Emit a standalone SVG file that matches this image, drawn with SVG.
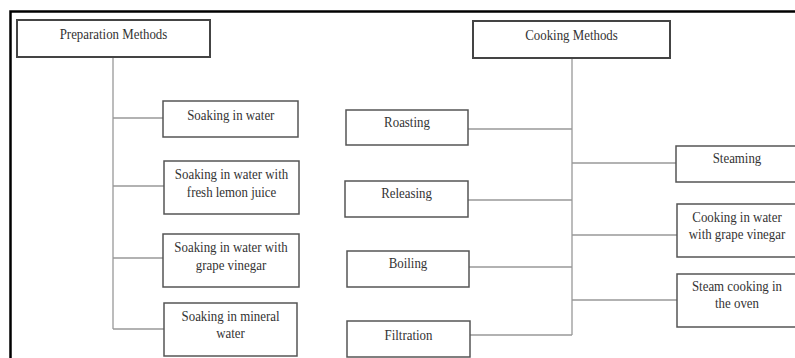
<svg xmlns="http://www.w3.org/2000/svg" width="795" height="358" viewBox="0 0 795 358">
<style>
.box{fill:#fff;stroke:#555;stroke-width:1.5}
.head{fill:#fff;stroke:#444;stroke-width:2}
.t{font-family:"Liberation Serif","Times New Roman",serif;font-size:14px;fill:#333;text-anchor:middle}
.con{stroke:#999;stroke-width:1.3;fill:none}
</style>
<rect width="795" height="358" fill="#fff"/>
<path d="M10.5,358 V11.5 H795" fill="none" stroke="#000" stroke-width="2.5"/>
<g id="connectors">
<path class="con" d="M113,57 V329 M113,118 H163 M113,186 H164 M113,258 H163 M113,329 H164"/>
<path class="con" d="M572,58 V335 M468,129 H572 M468,200 H572 M469,267 H572 M470,335 H572 M572,163 H676 M572,235 H677 M572,300 H677"/>
</g>
<g id="prep"><rect class="head" x="17" y="20" width="193" height="37"/><text class="t" transform="translate(113.5,38.5) scale(0.92,1)">Preparation Methods</text></g>
<g id="soak1"><rect class="box" x="163" y="101" width="135" height="36"/><text class="t" transform="translate(230.8,119.5) scale(0.92,1)">Soaking in water</text></g>
<g id="soak2"><rect class="box" x="164" y="161" width="135" height="53"/><text class="t" transform="translate(231.5,178.5) scale(0.92,1)">Soaking in water with</text><text class="t" transform="translate(231.5,196.5) scale(0.92,1)">fresh lemon juice</text></g>
<g id="soak3"><rect class="box" x="163" y="234" width="136" height="53"/><text class="t" transform="translate(231,252) scale(0.92,1)">Soaking in water with</text><text class="t" transform="translate(231,270) scale(0.92,1)">grape vinegar</text></g>
<g id="soak4"><rect class="box" x="164" y="303" width="133" height="53"/><text class="t" transform="translate(230.5,320.5) scale(0.92,1)">Soaking in mineral</text><text class="t" transform="translate(230.5,338) scale(0.92,1)">water</text></g>
<g id="cook"><rect class="head" x="473" y="21" width="197" height="37"/><text class="t" transform="translate(571.5,39.5) scale(0.92,1)">Cooking Methods</text></g>
<g id="roasting"><rect class="box" x="346" y="110" width="122" height="35"/><text class="t" transform="translate(407,127) scale(0.92,1)">Roasting</text></g>
<g id="releasing"><rect class="box" x="345" y="181" width="123" height="36"/><text class="t" transform="translate(406.5,198) scale(0.92,1)">Releasing</text></g>
<g id="boiling"><rect class="box" x="347" y="251" width="122" height="36"/><text class="t" transform="translate(408,268) scale(0.92,1)">Boiling</text></g>
<g id="filtration"><rect class="box" x="347" y="321" width="123" height="36"/><text class="t" transform="translate(408.5,340) scale(0.92,1)">Filtration</text></g>
<g id="steaming"><rect class="box" x="676" y="146" width="122" height="36"/><text class="t" transform="translate(737,163) scale(0.92,1)">Steaming</text></g>
<g id="cookwater"><rect class="box" x="677" y="204" width="122" height="53"/><text class="t" transform="translate(737,221.5) scale(0.92,1)">Cooking in water</text><text class="t" transform="translate(737,239) scale(0.92,1)">with grape vinegar</text></g>
<g id="steamoven"><rect class="box" x="677" y="274" width="122" height="53"/><text class="t" transform="translate(737,290.5) scale(0.92,1)">Steam cooking in</text><text class="t" transform="translate(737,308) scale(0.92,1)">the oven</text></g>
</svg>
